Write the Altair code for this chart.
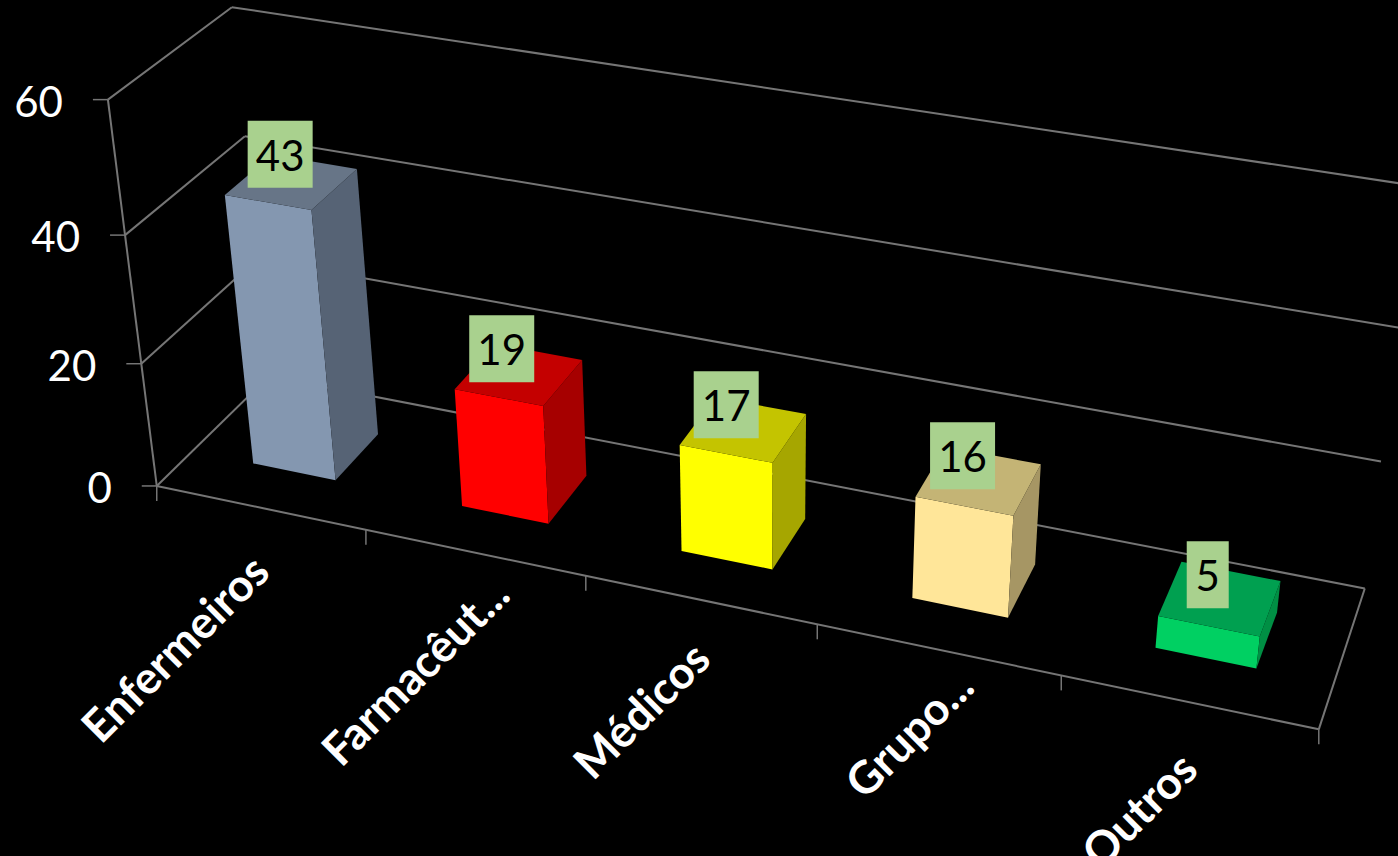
import altair as alt
import numpy as np
import pandas as pd

# Chart content
categories = ["Enfermeiros", "Farmacêut...", "Médicos", "Grupo...", "Outros"]
values = [43, 19, 17, 16, 5]
value_ticks = [0, 20, 40, 60]
front_colors = ["#8497B0", "#FF0000", "#FFFF00", "#FFE699", "#00D062"]
side_colors = ["#566375", "#A60000", "#A6A600", "#A69664", "#008F44"]
top_colors = ["#677587", "#C40000", "#C4C400", "#C4B475", "#00A050"]

W, H = 1398, 856
VMAX = 60
GRID = "#757575"
BOX = "#A9D18E"
BAR_U = (0.30, 0.70)
BAR_V = (0.305, 0.71)

# Camera of the 3D scene: (slot along the category axis, depth 0-1, value) -> page pixels,
# solved from where the box corners and axis ticks fall on the page.
anchors = [
    ((0, 0, 0), (157, 485)), ((0, 0, 20), (142, 363)), ((0, 0, 40), (125, 235)), ((0, 0, 60), (107, 100)),
    ((1, 0, 0), (366, 530)), ((2, 0, 0), (586, 577)), ((3, 0, 0), (817, 625)), ((4, 0, 0), (1061, 675)),
    ((5, 0, 0), (1319, 729)), ((0, 1, 0), (269, 375)), ((0, 1, 20), (256, 262)), ((0, 1, 40), (245, 135)),
    ((0, 1, 60), (233, 7)), ((5, 1, 0), (1365, 588)), ((5, 1, 20), (1381, 462)), ((5, 1, 40), (1398, 327)),
    ((5, 1, 60), (1416, 186)),
]
rows = []
for (u, v, w), (px, py) in anchors:
    w = w / VMAX
    rows.append([u, v, w, 1, 0, 0, 0, 0, -px * u, -px * v, -px * w, -px])
    rows.append([0, 0, 0, 0, u, v, w, 1, -py * u, -py * v, -py * w, -py])
CAMERA = np.linalg.svd(np.array(rows, float))[2][-1].reshape(3, 4)


def project(u, v, value):
    q = CAMERA @ np.array([u, v, value / VMAX, 1.0])
    return float(q[0] / q[2]), float(q[1] / q[2])


# Wall and floor lines, with the outward tick marks on both axes
def segment(a, b, width=2.0):
    return {"x": a[0], "y": a[1], "x2": b[0], "y2": b[1], "w": width}


n = len(categories)
segments = [
    segment(project(0, 0, 0), project(0, 0, VMAX)),
    segment(project(0, 0, 0), project(n, 0, 0)),
    segment(project(n, 0, 0), project(n, 1, 0)),
]
for t in value_ticks:
    front = project(0, 0, t)
    segments.append(segment(front, project(0, 1, t)))
    segments.append(segment(project(0, 1, t), project(n, 1, t)))
    segments.append(segment((front[0] - 15, front[1]), front, 1.5))
for i in range(n + 1):
    base = project(i, 0, 0)
    segments.append(segment(base, (base[0], base[1] + 15), 1.5))

# Three visible faces of each bar
features = []
for i, (val, cf, cs, ct) in enumerate(zip(values, front_colors, side_colors, top_colors)):
    u0, u1 = i + BAR_U[0], i + BAR_U[1]
    v0, v1 = BAR_V
    faces = [
        ([(u0, v0, 0), (u1, v0, 0), (u1, v0, val), (u0, v0, val)], cf),
        ([(u1, v0, 0), (u1, v1, 0), (u1, v1, val), (u1, v0, val)], cs),
        ([(u0, v0, val), (u1, v0, val), (u1, v1, val), (u0, v1, val)], ct),
    ]
    for corners, color in faces:
        ring = [list(project(*c)) for c in corners]
        ring.append(ring[0])
        features.append({
            "type": "Feature",
            "geometry": {"type": "Polygon", "coordinates": [ring]},
            "properties": {"fill": color},
        })

# Value badges sit just above the centre of each bar top
badge_shift = [(-11, -28), (-17, -26), (-17, -25), (-16, -25), (-12, -24)]
badges = []
for i, val in enumerate(values):
    cx, cy = project(i + 0.5, 0.505, val)
    cx, cy = cx + badge_shift[i][0], cy + badge_shift[i][1]
    half = (19 + 23 * len(str(val))) / 2
    badges.append({"x": cx - half, "x2": cx + half, "y": cy - 33.5, "y2": cy + 33.5,
                   "cx": cx, "cy": cy + 3.5, "label": str(val)})

# Slanted category names, anchored at their upper right end
label_shift = [(2, 57), (28, 35), (3, 52), (29, 30), (2, 60)]
cat_rows = []
for i, name in enumerate(categories):
    px, py = project(i + 0.5, 0, 0)
    cat_rows.append({"x": px + label_shift[i][0], "y": py + label_shift[i][1], "label": name})

tick_rows = []
for t in value_ticks:
    px, py = project(0, 0, t)
    tick_rows.append({"x": px - 45, "y": py + 4, "label": str(t)})

x_scale = alt.Scale(domain=[0, W], range=[0, W], nice=False, zero=False)
y_scale = alt.Scale(domain=[0, H], range=[0, H], nice=False, zero=False)
X = alt.X("x:Q", scale=x_scale, axis=None)
Y = alt.Y("y:Q", scale=y_scale, axis=None)

grid = alt.Chart(pd.DataFrame(segments)).mark_rule(color=GRID).encode(
    x=X, y=Y, x2="x2:Q", y2="y2:Q",
    strokeWidth=alt.StrokeWidth("w:Q", scale=None),
)

bars = alt.Chart(alt.Data(values=features)).mark_geoshape(strokeWidth=0).encode(
    fill=alt.Fill("properties.fill:N", scale=None),
).project(type="identity", scale=1, translate=[0, 0])

badge_df = pd.DataFrame(badges)
badge_boxes = alt.Chart(badge_df).mark_rect(color=BOX).encode(x=X, y=Y, x2="x2:Q", y2="y2:Q")
badge_text = alt.Chart(badge_df).mark_text(
    font="Lato", fontSize=42, color="#000000", align="center", baseline="middle"
).encode(x=alt.X("cx:Q", scale=x_scale, axis=None), y=alt.Y("cy:Q", scale=y_scale, axis=None), text="label:N")

value_labels = alt.Chart(pd.DataFrame(tick_rows)).mark_text(
    font="Lato", fontSize=42, color="#FFFFFF", align="right", baseline="middle"
).encode(x=X, y=Y, text="label:N")

category_labels = alt.Chart(pd.DataFrame(cat_rows)).mark_text(
    font="Lato", fontSize=45, fontWeight="bold", color="#FFFFFF", align="right", baseline="middle", angle=315
).encode(x=X, y=Y, text="label:N")

chart = alt.layer(grid, bars, badge_boxes, badge_text, value_labels, category_labels).properties(
    width=W, height=H, background="#000000", padding=0,
    autosize=alt.AutoSizeParams(type="none"),
).configure_view(strokeWidth=0)

chart.save("out.html", embed_options={"renderer": "svg", "actions": False})
